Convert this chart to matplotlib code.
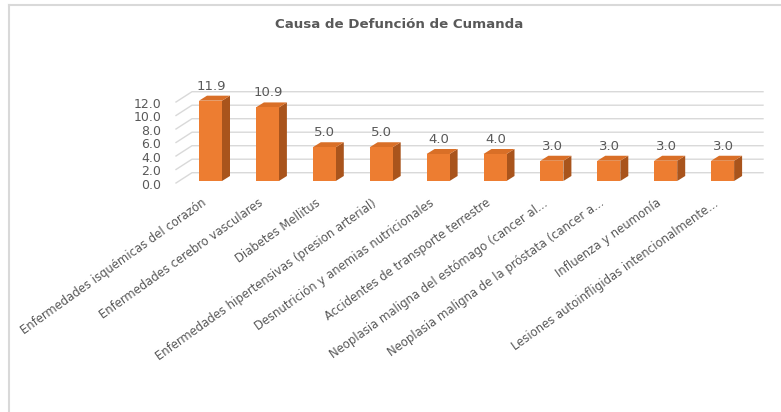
import matplotlib
matplotlib.use("Agg")
import matplotlib.pyplot as plt
from matplotlib.patches import Polygon
from matplotlib.lines import Line2D
from matplotlib.transforms import ScaledTranslation
import numpy as np

title = "Causa de Defunción de Cumanda"
categories = [
    "Enfermedades isquémicas del corazón",
    "Enfermedades cerebro vasculares",
    "Diabetes Mellitus",
    "Enfermedades hipertensivas (presion arterial)",
    "Desnutrición y anemias nutricionales",
    "Accidentes de transporte terrestre",
    "Neoplasia maligna del estómago (cancer al...",
    "Neoplasia maligna de la próstata (cancer a...",
    "Influenza y neumonía",
    "Lesiones autoinfligidas intencionalmente...",
]
values = [11.9, 10.9, 5.0, 5.0, 4.0, 4.0, 3.0, 3.0, 3.0, 3.0]
yticks = [0, 2, 4, 6, 8, 10, 12]

W, H, DPI = 781, 412, 100
fig = plt.figure(figsize=(W / DPI, H / DPI), dpi=DPI)
fig.patch.set_facecolor("white")

# axes = front plane of bars; pixel geometry
px_per_x = 56.9
px_per_y = 6.75
x0_px = 210.5 - 0.5 * px_per_x
y0_px = 181.0
ax = fig.add_axes([x0_px / W, (H - y0_px) / H, 10 * px_per_x / W, 12 * px_per_y / H])
ax.set_xlim(-0.5, 9.5)
ax.set_ylim(0, 12)
for s in ax.spines.values():
    s.set_visible(False)
ax.patch.set_alpha(0)

grey_txt = "#595959"
grid_c = "#D9D9D9"

def dx(px):
    return px / px_per_x

def dy(px):
    return px / px_per_y

# gridlines (back wall + left floor diagonal)
x_front = dx(176 - x0_px) - 0.5
x_back = dx(192 - x0_px) - 0.5
x_end = dx(763 - x0_px) - 0.5
back_off = dy(8.3)
front_off = dy(-2)
for v in yticks:
    ax.add_line(Line2D([x_front, x_back, x_end], [v + front_off, v + back_off, v + back_off],
                       color=grid_c, lw=1.0, clip_on=False, zorder=1))

# bars (3D look)
x = np.arange(len(values))
w = 23 / px_per_x
ddx, ddy = dx(8), dy(5)
front_c, side_c, top_c = "#ED7D31", "#A9541C", "#D96F27"
ax.bar(x, values, width=w, color=front_c, zorder=3, clip_on=False)
for xi, v in zip(x, values):
    r = xi + w / 2
    l = xi - w / 2
    ax.add_patch(Polygon([(r, 0), (r + ddx, ddy), (r + ddx, v + ddy), (r, v)],
                         closed=True, facecolor=side_c, edgecolor="none", zorder=2, clip_on=False))
    ax.add_patch(Polygon([(l, v), (r, v), (r + ddx, v + ddy), (l + ddx, v + ddy)],
                         closed=True, facecolor=top_c, edgecolor="none", zorder=2, clip_on=False))
    ax.annotate(f"{v:.1f}", (xi, v), xytext=(0.3, 10.5), textcoords="offset points",
                ha="center", va="center", fontsize=9.5, color=grey_txt, clip_on=False)

# y ticks
ax.set_yticks(yticks)
ax.set_yticklabels([f"{t:.1f}" for t in yticks], fontsize=9, color=grey_txt)
ax.tick_params(axis="y", length=0, pad=15)
for lab in ax.get_yticklabels():
    lab.set_transform(lab.get_transform() + ScaledTranslation(0, -2 / 72, fig.dpi_scale_trans))

# x ticks
ax.set_xticks(x)
ax.set_xticklabels(categories, rotation=35.5, ha="right", va="center", rotation_mode="anchor",
                   fontsize=8.4, color=grey_txt)
ax.tick_params(axis="x", length=0, pad=15)
for lab in ax.get_xticklabels():
    lab.set_transform(lab.get_transform() + ScaledTranslation(-4 / 72, 0, fig.dpi_scale_trans))

fig.text(399 / W, 1 - 24 / H, title, ha="center", va="center", fontsize=9.6, fontweight="bold",
         color=grey_txt)

# outer chart border (cropped)
fig.add_artist(Line2D([8.5 / W, 1], [1 - 4.5 / H, 1 - 4.5 / H], color="#D9D9D9", lw=1.5,
                      transform=fig.transFigure))
fig.add_artist(Line2D([8.5 / W, 8.5 / W], [0, 1 - 4.5 / H], color="#D9D9D9", lw=1.5,
                      transform=fig.transFigure))

fig.savefig("out.png", dpi=DPI)
